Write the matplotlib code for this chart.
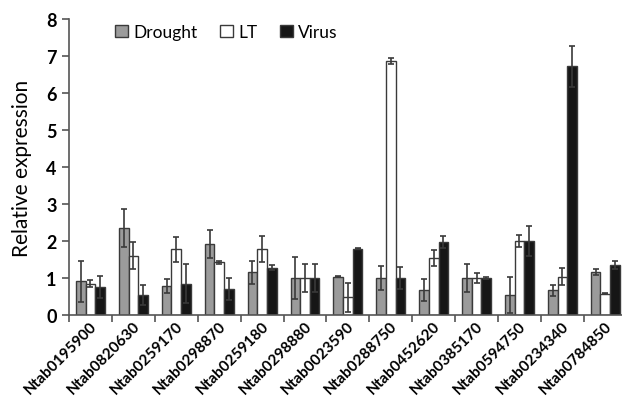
import numpy as np
import matplotlib
matplotlib.use("Agg")
import matplotlib.pyplot as plt

plt.rcParams['font.family'] = ['Lato', 'DejaVu Sans']

genes = ["Ntab0195900", "Ntab0820630", "Ntab0259170", "Ntab0298870", "Ntab0259180",
         "Ntab0298880", "Ntab0023590", "Ntab0288750", "Ntab0452620", "Ntab0385170",
         "Ntab0594750", "Ntab0234340", "Ntab0784850"]

drought = [0.91, 2.35, 0.79, 1.92, 1.15, 1.00, 1.04, 1.00, 0.68, 1.00, 0.54, 0.67, 1.15]
drought_err = [0.55, 0.52, 0.19, 0.39, 0.31, 0.58, 0.02, 0.33, 0.29, 0.39, 0.49, 0.15, 0.08]

lt = [0.85, 1.60, 1.78, 1.42, 1.78, 1.00, 0.48, 6.87, 1.54, 1.00, 2.00, 1.04, 0.58]
lt_err = [0.09, 0.37, 0.34, 0.05, 0.36, 0.38, 0.39, 0.08, 0.22, 0.14, 0.15, 0.22, 0.02]

virus = [0.75, 0.54, 0.85, 0.70, 1.28, 1.00, 1.79, 1.00, 1.98, 1.00, 2.00, 6.72, 1.35]
virus_err = [0.30, 0.28, 0.52, 0.30, 0.07, 0.37, 0.01, 0.30, 0.16, 0.03, 0.40, 0.55, 0.10]

series = [("Drought", drought, drought_err, "#9b9b9b"),
          ("LT", lt, lt_err, "#ffffff"),
          ("Virus", virus, virus_err, "#161616")]

fig = plt.figure(figsize=(6.22, 4.02), dpi=100)
ax = fig.add_axes([0.111, 0.214, 0.889, 0.736])

x = np.arange(len(genes))
w = 0.225
for i, (name, vals, errs, col) in enumerate(series):
    ax.bar(x + (i - 1) * w, vals, w, color=col, edgecolor="#3a3a3a", linewidth=1.0,
           yerr=errs, error_kw=dict(ecolor="#3a3a3a", elinewidth=1.2, capsize=2.5, capthick=1.2),
           label=name)

ax.set_ylim(0, 8)
ax.set_xlim(-0.5, 12.39)
ax.set_yticks(range(9))
ax.set_yticklabels([str(v) for v in range(9)], fontsize=13, fontweight="bold")
# label anchors sit slightly right of the group centre
ax.set_xticks(x + 0.1)
ax.set_xticklabels(genes, rotation=45, ha="right", va="center", rotation_mode="anchor",
                   fontsize=11, fontweight="bold")
ax.set_xticks(np.arange(len(genes)) - 0.5, minor=True)
ax.tick_params(axis="x", which="major", length=0, pad=6)
ax.tick_params(axis="x", which="minor", length=5, width=1.2, color="#555555", direction="out")
ax.tick_params(axis="y", length=5, width=1.2, color="#555555", direction="out", pad=4)

for s in ["top", "right"]:
    ax.spines[s].set_visible(False)
for s in ["left", "bottom"]:
    ax.spines[s].set_color("#555555")
    ax.spines[s].set_linewidth(1.2)

ax.set_ylabel("Relative expression", fontsize=15, labelpad=10)

ax.legend(loc="center left", bbox_to_anchor=(0.083, 0.956), ncol=3, frameon=False,
          fontsize=12.5, handlelength=0.75, handleheight=0.75, handletextpad=0.3,
          columnspacing=1.3, borderpad=0, borderaxespad=0)

fig.savefig("out.png", dpi=100)
